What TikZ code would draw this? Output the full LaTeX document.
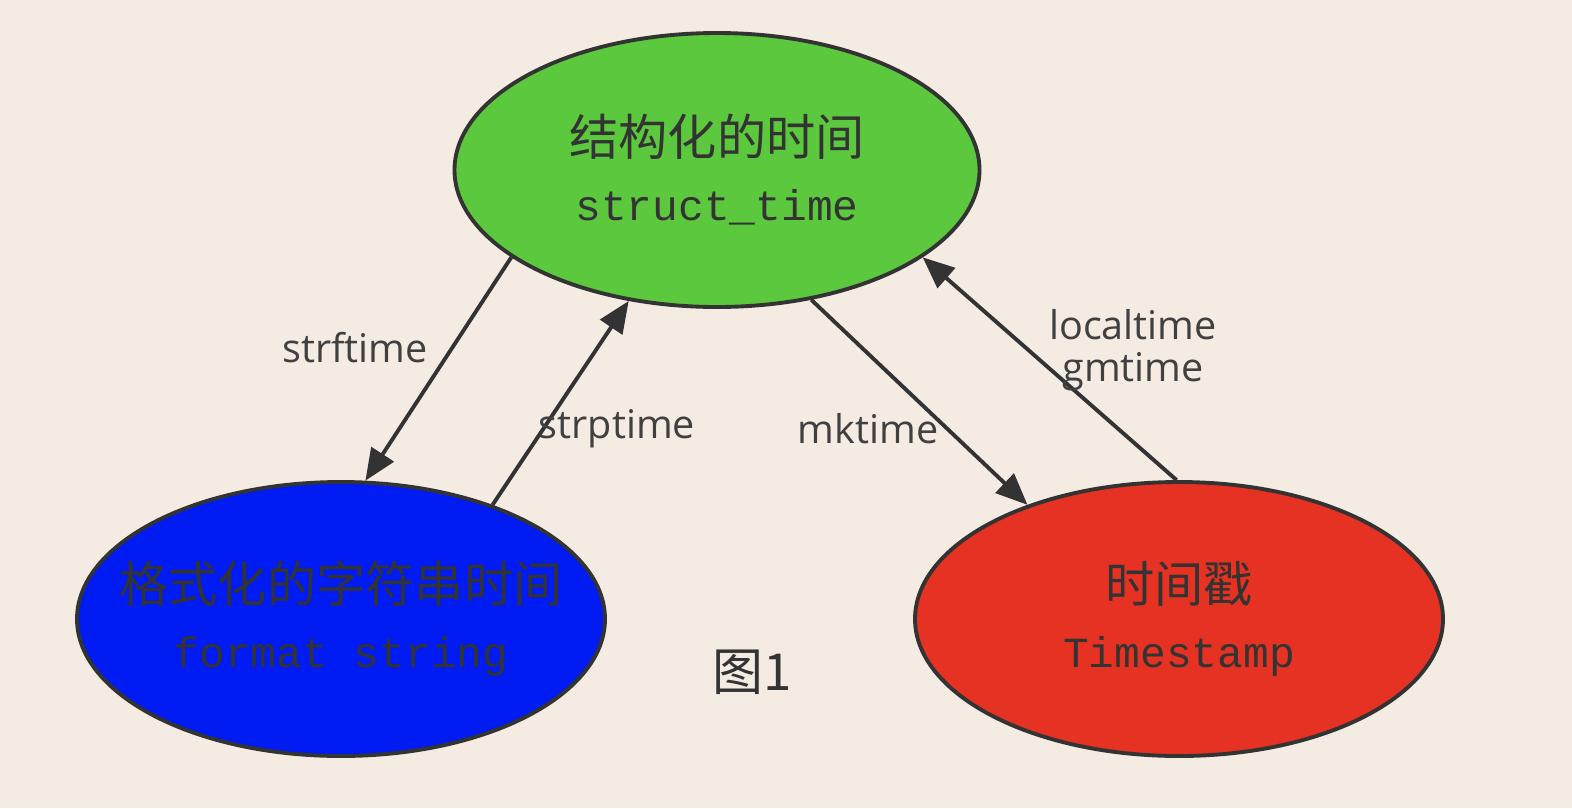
\documentclass[tikz,border=0pt]{standalone}
\usepackage{fontspec}
\setmonofont{Liberation Mono}
\newfontfamily\cjkfont{Noto Sans CJK SC}
\newfontfamily\edgefont{Open Sans}
\usetikzlibrary{shapes.geometric, arrows.meta, positioning}
\definecolor{PaperBg}{HTML}{F4ECE3}
\definecolor{TimeGreen}{HTML}{5BC83D}
\definecolor{TimeBlue}{HTML}{001CF2}
\definecolor{TimeRed}{HTML}{E53222}
\definecolor{InkGray}{HTML}{333333}
\definecolor{LabelGray}{HTML}{404040}
\tikzset{
    timenode/.style={
        ellipse,
        draw=InkGray,
        line width=2.2pt,
        fill=#1,
        minimum width=10.56cm,
        minimum height=5.48cm,
        inner sep=0pt,
        inner xsep=-1.5cm,
        text=InkGray,
        align=center,
        font=\cjkfont\fontsize{28}{37}\selectfont
    },
    timenode/.default=TimeGreen,
    arrow/.style={
        -{Triangle[length=18pt,width=15pt]},
        line width=2.2pt,
        InkGray
    },
    edgelabel/.style={
        font=\edgefont\fontsize{22.5}{23.8}\selectfont,
        text=LabelGray,
        align=center,
        inner sep=0pt
    }
}

\begin{document}
\begin{tikzpicture}
        % Background
        \fill[PaperBg] (0,0) rectangle (31.44,-16.16);
        \useasboundingbox (0,0) rectangle (31.44,-16.16);

        % Struct time
        \node[timenode=TimeGreen, minimum width=10.5cm] (struct) at (14.34,-3.40) {结构化的时间\\{\ttfamily\fontsize{24.4}{37}\selectfont struct\_time}};

        % Format string
        \node[timenode=TimeBlue] (format) at (6.82,-12.38) {格式化的字符串时间\\{\ttfamily\fontsize{24.4}{37}\selectfont format string}};

        % Timestamp
        \node[timenode=TimeRed] (stamp) at (23.58,-12.38) {时间戳\\{\ttfamily\fontsize{24.4}{37}\selectfont Timestamp}};

        % Arrows
        \draw[arrow] (struct.203) -- (format.80);
        \draw[arrow] (format.37) -- (struct.236);
        \draw[arrow] (struct.306) -- (stamp.143);
        \draw[arrow] (stamp.91) -- (struct.337);

        % Function labels
        \node[edgelabel] (strf) at (7.10,-6.96) {strftime};
        \node[edgelabel] (strp) at (12.34,-8.58) {strptime};
        \node[edgelabel] (mk) at (17.36,-8.58) {mktime};
        \node[edgelabel] (local) at (22.66,-7.00) {localtime\\gmtime};

        % Caption
        \node[font=\cjkfont\fontsize{29}{32}\selectfont, text=InkGray] (fig) at (15.04,-13.44) {图1};
\end{tikzpicture}
\end{document}
